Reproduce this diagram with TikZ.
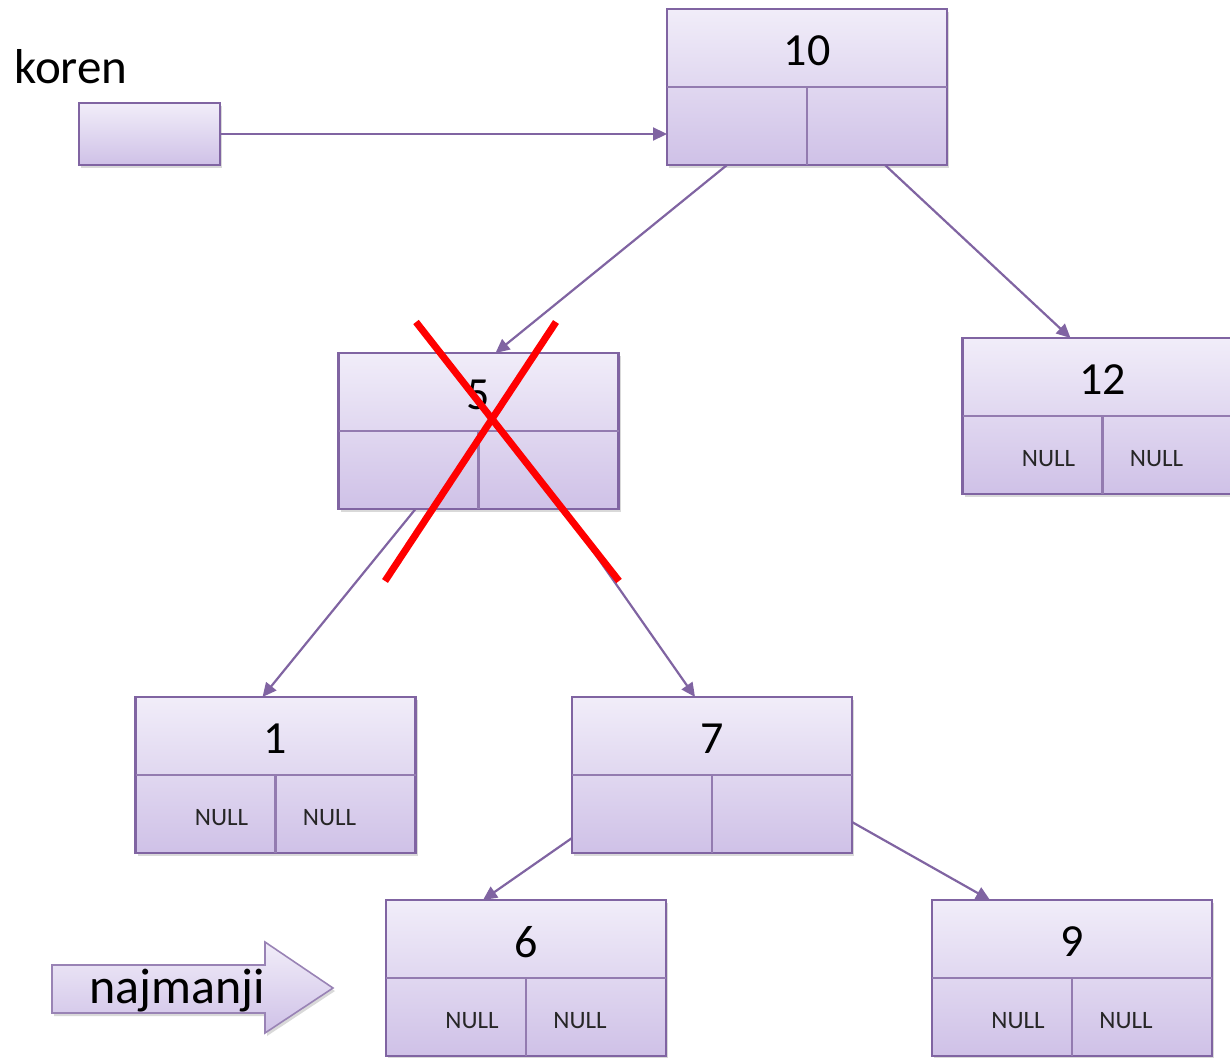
\documentclass[tikz,border=0pt]{standalone}
\usepackage{fontspec}
\setmainfont{Carlito}
\usetikzlibrary{shadows,arrows.meta}
\definecolor{lineC}{HTML}{8064A2}
\definecolor{topC}{HTML}{F1EDF9}
\definecolor{botC}{HTML}{CFC1E7}
\definecolor{crossC}{HTML}{FF0000}
\tikzset{
  x=1pt, y=-1pt,
  treenode/.style={draw=lineC, line width=2.4pt, top color=topC, bottom color=botC,
    minimum width=280pt, minimum height=156pt, inner sep=0pt, outer sep=0pt,
    drop shadow={opacity=0.3, shadow xshift=2pt, shadow yshift=-3pt}},
  divider/.style={draw=lineC!85, line width=2.4pt},
  keytext/.style={font=\fontsize{46}{50}\selectfont, text=black},
  nulltext/.style={font=\fontsize{25}{28}\selectfont, text=black!85},
  link/.style={draw=lineC, line width=2.2pt, -{Triangle[length=14pt,width=13pt]}},
  cross/.style={draw=crossC, line width=7pt},
}
% a tree node: name, centre x, centre y, key, whether both children are NULL
\newcommand{\bstnode}[5]{%
  \node[treenode] (#1) at (#2,#3) {};
  \draw[divider] (#1.west) -- (#1.east);
  \draw[divider] (#1.center) -- (#1.south);
  \node[keytext] (#1-key) at ([yshift=36pt]#1.center) {#4};
  \ifx#5y
    \node[nulltext] (#1-l) at ([xshift=-54pt,yshift=-43pt]#1.center) {NULL};
    \node[nulltext] (#1-r) at ([xshift=54pt,yshift=-43pt]#1.center) {NULL};
  \fi
}
\begin{document}
\begin{tikzpicture}
\useasboundingbox (0,0) rectangle (1230,1057);

% root pointer
\node[font=\fontsize{49}{52}\selectfont] (korenlbl) at (71,67) {koren};
\node[draw=lineC, line width=2.4pt, top color=topC, bottom color=botC,
      minimum width=141pt, minimum height=62pt, inner sep=0pt,
      drop shadow={opacity=0.3, shadow xshift=2pt, shadow yshift=-3pt}]
      (koren) at (149.5,134) {};

% tree nodes
\bstnode{n10}{807}{87}{10}{n}
\bstnode{n5}{478.5}{431}{5}{n}
\bstnode{n12}{1102.5}{416}{12}{y}
\bstnode{n1}{275.5}{775}{1}{y}
\bstnode{n7}{712}{775}{7}{n}
\bstnode{n6}{526}{978}{6}{y}
\bstnode{n9}{1072}{978}{9}{y}

% pointers
\draw[link] (koren.east) -- (koren.east -| n10.west);
\draw[link] ([xshift=-80pt]n10.south) -- ([xshift=17pt]n5.north);
\draw[link] ([xshift=78pt]n10.south) -- ([xshift=-32pt]n12.north);
\draw[link] ([xshift=-63pt]n5.south) -- ([xshift=-13pt]n1.north);
\draw[link] ([xshift=85pt]n5.south) -- ([xshift=-17pt]n7.north);
\draw[link] ([yshift=-63pt]n7.west) -- ([xshift=-43pt]n6.north);
\draw[link] ([yshift=-47pt]n7.east) -- ([xshift=-82pt]n9.north);

% deleted node is crossed out
\draw[cross] (416,322) -- (619,581);
\draw[cross] (556,322) -- (385,581);

% marker for the smallest key
\path[draw=lineC!80, line width=1.6pt, top color=topC, bottom color=botC,
      drop shadow={opacity=0.3, shadow xshift=2pt, shadow yshift=-3pt}]
  (52,965) -- (265,965) -- (265,942) -- (333,988) -- (265,1033) -- (265,1013) -- (52,1013) -- cycle;
\node[font=\fontsize{50}{54}\selectfont] (najmanji) at (177,991) {najmanji};
\end{tikzpicture}
\end{document}
